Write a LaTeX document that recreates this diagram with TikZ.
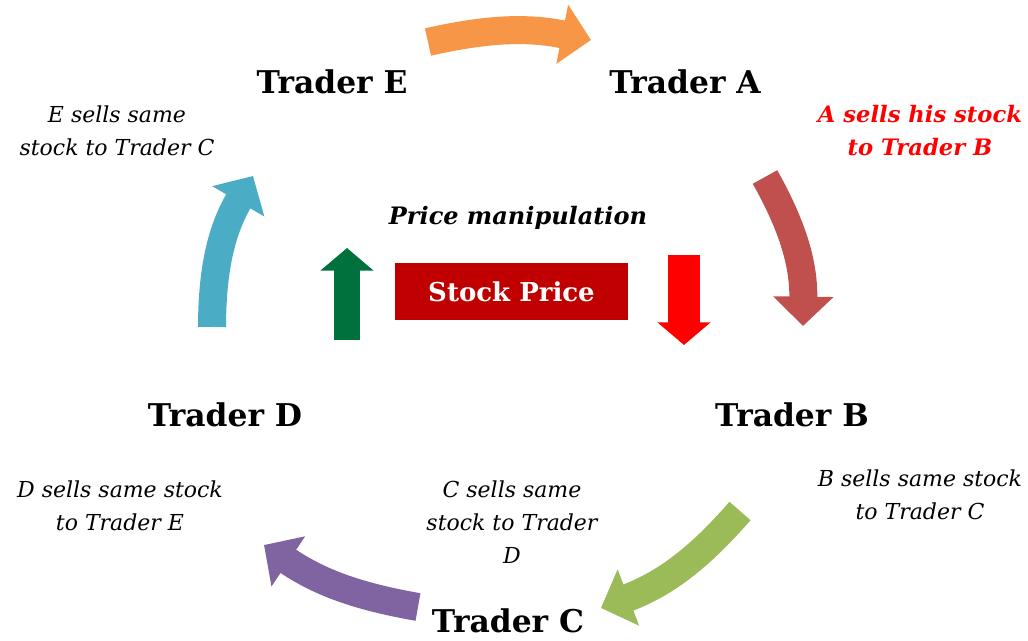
\documentclass[tikz,border=0pt]{standalone}
\usepackage{fontspec}
\setmainfont{DejaVu Serif}
\usetikzlibrary{arrows.meta}
\definecolor{loopOrange}{HTML}{F79646}
\definecolor{loopRed}{HTML}{C0504D}
\definecolor{loopGreen}{HTML}{9BBB59}
\definecolor{loopPurple}{HTML}{8064A2}
\definecolor{loopCyan}{HTML}{4BACC6}
\definecolor{upGreen}{HTML}{00703C}
\definecolor{boxRed}{HTML}{C00000}

\begin{document}
\begin{tikzpicture}[x=0.75pt, y=-0.75pt,
  trader/.style={font=\fontsize{23.5}{28}\selectfont\bfseries},
  note/.style={font=\fontsize{16.5}{24.75}\selectfont\itshape, align=center},
  fat/.style={line width=21pt, -{Triangle[length=22pt,width=44pt]}},
  updown/.style={line width=20pt, -{Triangle[length=17pt,width=39pt]}}
]
\useasboundingbox (0,0) rectangle (1028,641);

\node[trader] (tE) at (332,82) {Trader E};
\node[trader] (tA) at (685,82) {Trader A};
\node[trader] (tB) at (792,415) {Trader B};
\node[trader] (tC) at (508,621) {Trader C};
\node[trader] (tD) at (225,415) {Trader D};

\node[note] (nE) at (117,131) {E sells same\\stock to Trader C};
\node[note, text=red, font=\fontsize{17}{24.75}\selectfont\bfseries\itshape] (nA) at (920,131) {A sells his stock\\to Trader B};
\node[note] (nB) at (920,495) {B sells same stock\\to Trader C};
\node[note] (nC) at (512,522) {C sells same\\stock to Trader\\D};
\node[note] (nD) at (120,506) {D sells same stock\\to Trader E};

\node[font=\fontsize{18}{22}\selectfont\bfseries\itshape] (manip) at (518,218) {Price manipulation};
\node[fill=boxRed, text=white, minimum width=175pt, minimum height=43pt,
  font=\fontsize{19.5}{23}\selectfont\bfseries] (price) at (511.5,291.5) {Stock Price};

\coordinate (eaTail) at (428,42);  \coordinate (eaTip) at (591,40);
\coordinate (abTail) at (765,177); \coordinate (abTip) at (803,326);
\coordinate (bcTail) at (740,511); \coordinate (bcTip) at (601,608);
\coordinate (cdTail) at (418,607); \coordinate (cdTip) at (264,545);
\coordinate (deTail) at (212,327); \coordinate (deTip) at (253,176);
\coordinate (upTail) at (347,340); \coordinate (upTip) at (347,248);
\coordinate (dnTail) at (684,255); \coordinate (dnTip) at (684,345);

\draw[fat, loopOrange] (eaTail) to[bend left=12] (eaTip);
\draw[fat, loopRed] (abTail) to[bend left=15] (abTip);
\draw[fat, loopGreen] (bcTail) to[bend left=14] (bcTip);
\draw[fat, loopPurple] (cdTail) to[bend left=12] (cdTip);
\draw[fat, loopCyan] (deTail) to[bend left=15] (deTip);
\draw[updown, upGreen] (upTail) -- (upTip);
\draw[updown, red, line width=24pt] (dnTail) -- (dnTip);
\end{tikzpicture}
\end{document}
